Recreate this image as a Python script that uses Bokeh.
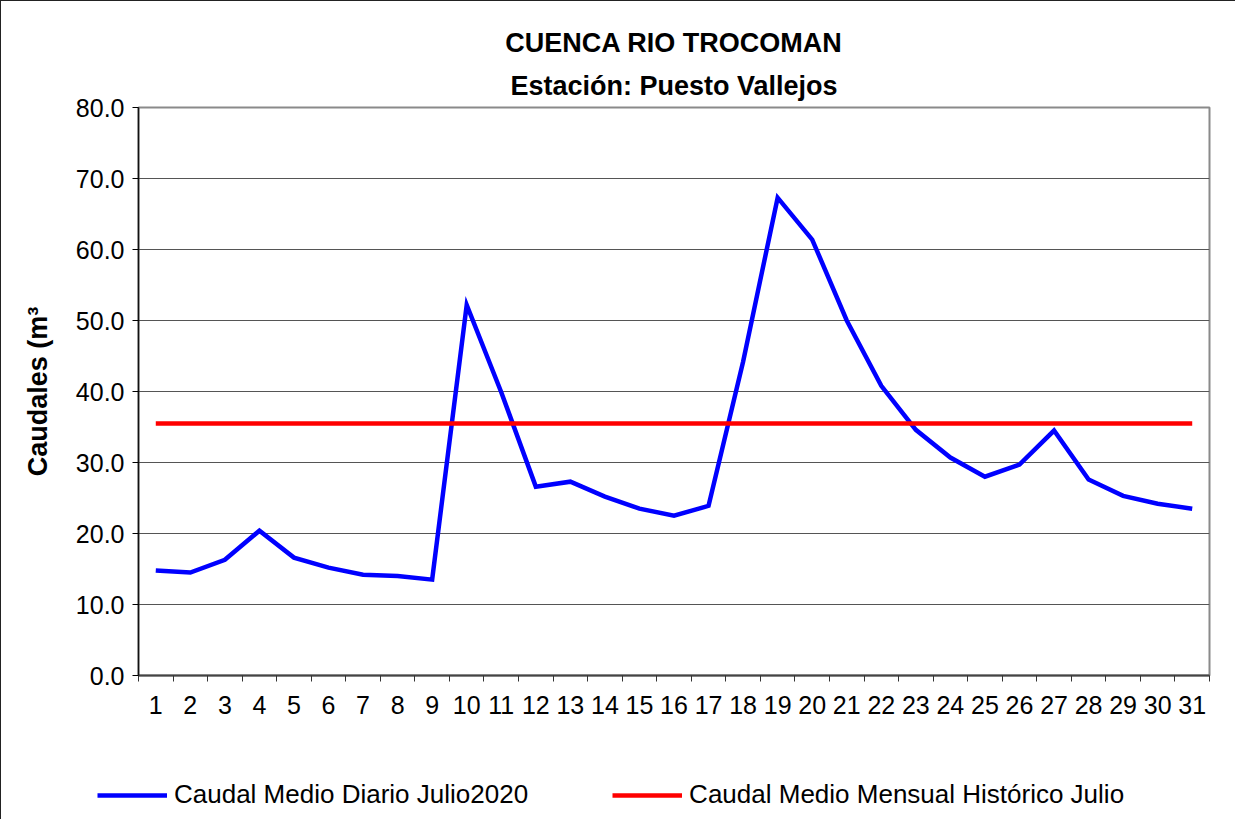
from bokeh.plotting import figure
from bokeh.models import (FixedTicker, NumeralTickFormatter, Title, Legend, LegendItem,
                          Range1d, ColumnDataSource)
from bokeh.embed import file_html
from bokeh.resources import INLINE

# ---- data ----
days = list(range(1, 32))
caudal_diario = [14.8, 14.5, 16.3, 20.4, 16.6, 15.2, 14.2, 14.0, 13.5, 52.2,
                 39.9, 26.6, 27.3, 25.2, 23.5, 22.5, 23.9, 44.2, 67.3, 61.4,
                 50.0, 40.8, 34.6, 30.7, 28.0, 29.7, 34.5, 27.6, 25.3, 24.2, 23.5]
caudal_historico = [35.5] * 31
title_1 = "CUENCA RIO TROCOMAN"
title_2 = "Estación: Puesto Vallejos"
y_label = "Caudales (m³"
serie_1 = "Caudal Medio Diario Julio2020"
serie_2 = "Caudal Medio Mensual Histórico Julio"
y_ticks = [0, 10, 20, 30, 40, 50, 60, 70, 80]

FONT = "Liberation Sans"
BLUE = "#0000FF"
RED = "#FF0000"

p = figure(output_backend="svg", toolbar_location=None,
           frame_width=1071, frame_height=568,
           min_border_left=137, min_border_right=26, min_border_top=106, min_border_bottom=60,
           x_range=Range1d(0.5, 31.5), y_range=Range1d(0, 80),
           background_fill_color="white", border_fill_color="white")
p.title = None
p.styles = {"border-top": "1px solid #222222", "border-left": "1px solid #222222"}

src = ColumnDataSource(dict(x=days, d=caudal_diario, h=caudal_historico))
r1 = p.line("x", "d", source=src, line_color=BLUE, line_width=4.5, line_join="miter")
r2 = p.line("x", "h", source=src, line_color=RED, line_width=4.5)

# x axis
xa = p.xaxis[0]
xa.ticker = FixedTicker(ticks=days, minor_ticks=[d - 0.5 for d in days] + [days[-1] + 0.5])
xa.major_label_overrides = {d: str(d) for d in days}
xa.major_tick_out = 0
xa.major_tick_in = 0
xa.minor_tick_out = 6
xa.minor_tick_in = 0
xa.minor_tick_line_color = "#333333"
xa.axis_line_color = "#444444"
xa.axis_line_width = 2
xa.major_label_text_font = FONT
xa.major_label_text_font_size = "25px"
xa.major_label_text_color = "black"
xa.major_label_standoff = 14

# y axis
ya = p.yaxis[0]
ya.ticker = FixedTicker(ticks=y_ticks, minor_ticks=[])
ya.formatter = NumeralTickFormatter(format="0.0")
ya.major_tick_out = 6
ya.major_tick_in = 0
ya.minor_tick_line_color = None
ya.axis_line_color = "#111111"
ya.axis_line_width = 1.5
ya.major_label_text_font = FONT
ya.major_label_text_font_size = "25px"
ya.major_label_text_color = "black"
ya.major_label_standoff = 8
ya.axis_label = y_label
ya.axis_label_text_font = FONT
ya.axis_label_text_font_size = "27px"
ya.axis_label_text_font_style = "bold"
ya.axis_label_text_color = "black"
ya.axis_label_standoff = 20

p.xgrid.grid_line_color = None
p.ygrid.grid_line_color = "#555555"
p.ygrid.grid_line_width = 1.2

p.outline_line_color = "#8a8a8a"
p.outline_line_width = 2

# titles
t2 = Title(text=title_2, align="center", text_font=FONT, text_font_size="27px",
           text_font_style="bold", text_color="black", standoff=14)
t1 = Title(text=title_1, align="center", text_font=FONT, text_font_size="27px",
           text_font_style="bold", text_color="black", standoff=8)
p.add_layout(t2, "above")
p.add_layout(t1, "above")

# legend strip: separate root figure so the legend is not clipped by the plot frame.
# Its lines use the same series but sit outside its visible y range (legend swatches only).
leg_fig = figure(output_backend="svg", toolbar_location=None,
                 width=1234, height=84, min_border=0,
                 x_range=Range1d(0.5, 31.5), y_range=Range1d(1000, 1001),
                 background_fill_color="white", border_fill_color="white")
leg_fig.axis.visible = False
leg_fig.grid.grid_line_color = None
leg_fig.outline_line_color = None
leg_fig.styles = {"border-left": "1px solid #222222"}
lr1 = leg_fig.line(days, caudal_diario, line_color=BLUE, line_width=4.5)
lr2 = leg_fig.line(days, caudal_historico, line_color=RED, line_width=4.5)

legend = Legend(items=[LegendItem(label=serie_1, renderers=[lr1]),
                       LegendItem(label=serie_2, renderers=[lr2])],
                orientation="horizontal", location=(96, 9),
                glyph_width=70, glyph_height=20, label_standoff=7, spacing=84,
                padding=0, margin=0,
                label_text_font=FONT, label_text_font_size="26px", label_text_color="black",
                border_line_color=None, background_fill_alpha=0)
leg_fig.add_layout(legend, "center")

open("out.html", "w").write(file_html([p, leg_fig], INLINE))
